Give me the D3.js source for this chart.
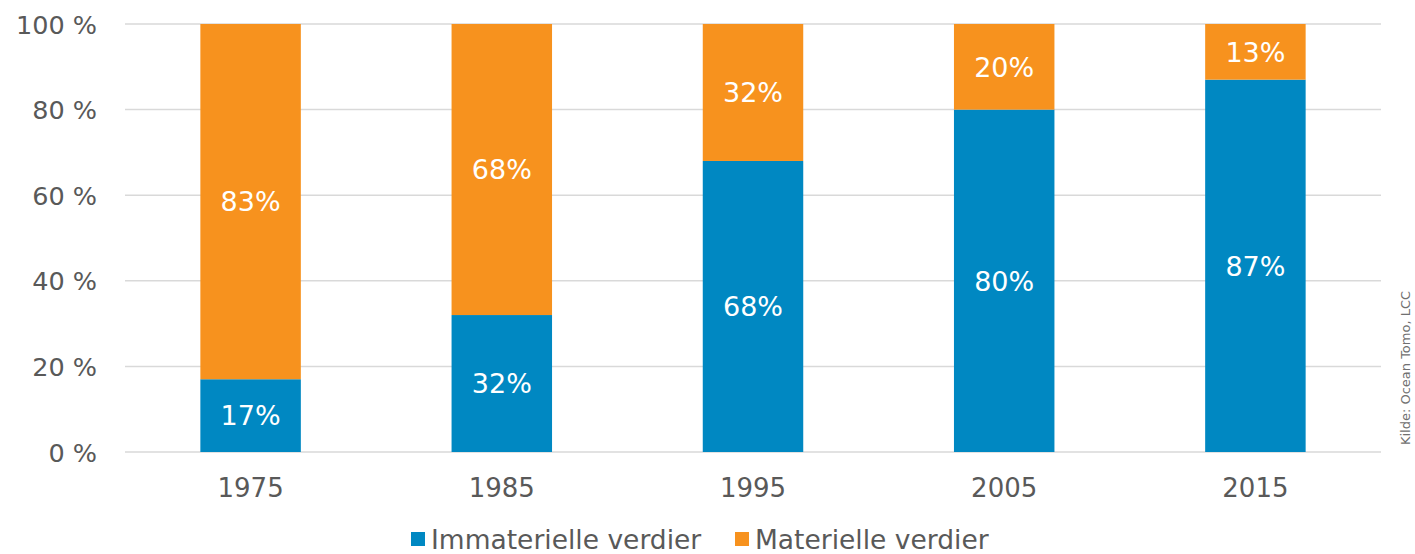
<!DOCTYPE html>
<html>
<head>
<meta charset="utf-8">
<script src="https://cdnjs.cloudflare.com/ajax/libs/d3/7.8.5/d3.min.js"></script>
<style>
  body { margin: 0; background: #fff; }
  svg text { font-family: "DejaVu Sans", Verdana, sans-serif; }
</style>
</head>
<body>
<div id="container"></div>
<script>
// data
var years = ['1975', '1985', '1995', '2005', '2015'];
var immaterielle = [17, 32, 68, 80, 87];
var materielle = [83, 68, 32, 20, 13];
var seriesNames = ['Immaterielle verdier', 'Materielle verdier'];
var yTicks = [0, 20, 40, 60, 80, 100];
var source = 'Kilde: Ocean Tomo, LCC';

var width = 1415,
	height = 554;

var margin = { top: 24, right: 34, bottom: 102, left: 125 };
var colors = ['#0088c2', '#f7921e'];

var rows = years.map((y, i) => ({ year: y, imm: immaterielle[i], mat: materielle[i] }));
var stack = d3.stack().keys(['imm', 'mat'])(rows);

var svg = d3.select('#container').append('svg')
	.attr('width', width)
	.attr('height', height);

var xScale = d3.scaleBand()
	.domain(years)
	.range([margin.left, width - margin.right])
	.paddingInner(0.6)
	.paddingOuter(0.3);

var yScale = d3.scaleLinear()
	.domain([0, 100])
	.range([height - margin.bottom, margin.top]);

// gridlines
svg.append('g')
	.selectAll('line')
	.data(yTicks)
	.enter().append('line')
		.attr('x1', margin.left)
		.attr('x2', width - margin.right)
		.attr('y1', d => yScale(d))
		.attr('y2', d => yScale(d))
		.attr('stroke', '#d9d9d9')
		.attr('stroke-width', 1.5);

// y axis
var yAxis = svg.append('g')
	.attr('transform', 'translate(' + (margin.left - 25) + ',0)')
	.call(d3.axisLeft(yScale).tickValues(yTicks).tickSize(0).tickFormat(d => d + ' %'));
yAxis.select('.domain').remove();
yAxis.selectAll('text')
	.attr('fill', '#595959')
	.attr('font-size', 25.5)
	.attr('dy', '0.36em');

// x axis
var xAxis = svg.append('g')
	.attr('transform', 'translate(0,' + (height - margin.bottom) + ')')
	.call(d3.axisBottom(xScale).tickSize(0));
xAxis.select('.domain').remove();
xAxis.selectAll('text')
	.attr('fill', '#595959')
	.attr('font-size', 26)
	.attr('dy', '1.62em');

// bars
var groups = svg.selectAll('g.series')
	.data(stack)
	.enter().append('g')
		.attr('class', 'series')
		.attr('fill', (d, i) => colors[i]);

groups.selectAll('rect')
	.data(d => d)
	.enter().append('rect')
		.attr('x', d => xScale(d.data.year))
		.attr('width', xScale.bandwidth())
		.attr('y', d => yScale(d[1]))
		.attr('height', d => yScale(d[0]) - yScale(d[1]));

groups.selectAll('text')
	.data(d => d)
	.enter().append('text')
		.attr('x', d => xScale(d.data.year) + xScale.bandwidth() / 2)
		.attr('y', d => (yScale(d[0]) + yScale(d[1])) / 2)
		.attr('dy', '0.36em')
		.attr('text-anchor', 'middle')
		.attr('fill', '#fff')
		.attr('font-size', 27)
		.text(d => (d[1] - d[0]) + '%');

// legend
var legend = svg.append('g');
var legendX = [411, 735];
seriesNames.forEach((name, i) => {
	legend.append('rect')
		.attr('x', legendX[i])
		.attr('y', 532)
		.attr('width', 14)
		.attr('height', 14)
		.attr('fill', colors[i]);
	legend.append('text')
		.attr('x', legendX[i] + 20)
		.attr('y', 539)
		.attr('dy', '0.36em')
		.attr('fill', '#595959')
		.attr('font-size', 26.5)
		.text(name);
});

// source note
svg.append('text')
	.attr('transform', 'translate(1410,368) rotate(-90)')
	.attr('text-anchor', 'middle')
	.attr('fill', '#707070')
	.attr('font-size', 13)
	.text(source);
</script>
</body>
</html>
